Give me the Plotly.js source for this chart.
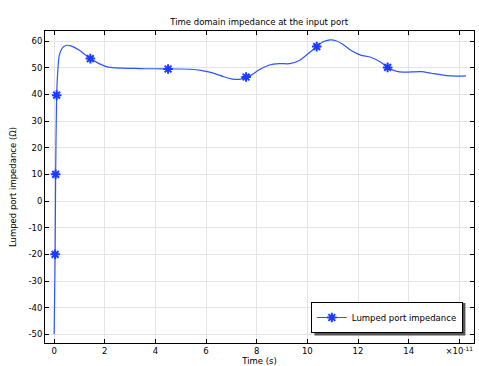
<!DOCTYPE html>
<html>
<head>
<meta charset="utf-8">
<script src="https://cdn.plot.ly/plotly-3.0.1.min.js"></script>
<style>html,body{margin:0;padding:0;background:#fff;}#chart{width:479px;height:366px;}</style>
</head>
<body>
<div id="chart"></div>
<script>
// Time in units of 1e-11 s
var timeVals = [0, 0.02, 0.04, 0.06, 0.1, 0.14, 0.2, 0.3, 0.4, 0.5, 0.65, 0.8, 1.0, 1.2, 1.43, 1.7, 2.0, 2.3, 2.7, 3.2, 3.6, 4.0, 4.5, 5.0, 5.4, 5.8, 6.1, 6.4, 6.7, 7.0, 7.2, 7.4, 7.58, 7.8, 8.1, 8.5, 8.9, 9.3, 9.7, 10.0, 10.37, 10.6, 10.9, 11.1, 11.4, 11.7, 12.1, 12.5, 12.9, 13.17, 13.5, 13.8, 14.1, 14.5, 14.9, 15.3, 15.7, 16.0, 16.26];
var impedanceVals = [-50, -35, -20, 10, 39.7, 48, 54.5, 57, 58, 58.4, 58.2, 57.6, 56.5, 55, 53.4, 51.9, 50.6, 50.0, 49.8, 49.7, 49.6, 49.6, 49.5, 49.5, 49.4, 49.0, 48.4, 47.6, 46.6, 45.8, 45.6, 45.8, 46.5, 47.3, 49.2, 51.0, 51.5, 51.5, 52.8, 55, 57.9, 59.6, 60.4, 60.2, 58.8, 56.6, 54.7, 53.9, 52, 50.1, 48.7, 48.3, 48.4, 48.5, 47.9, 47.3, 46.9, 46.8, 46.9];
var markerIdx = [2, 3, 4, 14, 22, 32, 40, 49];
var xTickVals = [0, 2, 4, 6, 8, 10, 12, 14, 16];
var xTickText = ['0', '2', '4', '6', '8', '10', '12', '14', '\u00d710<sup>-11</sup>'];
var yTickVals = [-50, -40, -30, -20, -10, 0, 10, 20, 30, 40, 50, 60];
var yTickText = ['-50', '-40', '-30', '-20', '-10', '0', '10', '20', '30', '40', '50', '60'];
var seriesName = 'Lumped port impedance';

var lineColor = 'rgb(45,85,255)';
var markColor = 'rgb(25,60,255)';
var markT = markerIdx.map(function(i){return timeVals[i];});
var markZ = markerIdx.map(function(i){return impedanceVals[i];});
var font = 'DejaVu Sans, sans-serif';

var traces = [
  {x: timeVals, y: impedanceVals, mode: 'lines', line: {color: lineColor, width: 1.2, shape: 'spline', smoothing: 0.6}, showlegend: false, hoverinfo: 'skip'},
  {x: markT, y: markZ, mode: 'markers', marker: {symbol: 'asterisk-open', size: 8, color: markColor, line: {color: markColor, width: 2}}, showlegend: false},
  {x: [null], y: [null], mode: 'lines+markers', name: seriesName, line: {color: lineColor, width: 1.2}, marker: {symbol: 'asterisk-open', size: 8, color: markColor, line: {color: markColor, width: 2}}}
];

var layout = {
  width: 479, height: 366,
  margin: {l: 45, r: 5, t: 31, b: 23},
  paper_bgcolor: '#fff', plot_bgcolor: '#fff',
  font: {family: font, size: 8.5, color: '#000'},
  title: {text: 'Time domain impedance at the input port', font: {family: font, size: 8.5, color: '#000'}, x: 0.541, xanchor: 'center', y: 0.94, yanchor: 'middle'},
  xaxis: {
    range: [-0.36, 16.58], tickvals: xTickVals, ticktext: xTickText,
    ticks: 'inside', ticklen: 4, tickcolor: '#000', showline: true, linecolor: '#000', linewidth: 1, mirror: 'ticks',
    showgrid: true, gridcolor: '#e4e4e4', gridwidth: 1, zeroline: false,
    title: {text: 'Time (s)', font: {family: font, size: 8.5}, standoff: 0},
    tickfont: {family: font, size: 8.5}
  },
  yaxis: {
    range: [-53.25, 63.75], tickvals: yTickVals, ticktext: yTickText,
    ticks: 'inside', ticklen: 4, tickcolor: '#000', showline: true, linecolor: '#000', linewidth: 1, mirror: 'ticks',
    showgrid: true, gridcolor: '#e4e4e4', gridwidth: 1, zeroline: false,
    title: {text: 'Lumped port impedance (\u03a9)', font: {family: font, size: 8.5}, standoff: 10},
    tickfont: {family: font, size: 8.5}
  },
  legend: {x: 0.974, xanchor: 'right', y: 0.032, yanchor: 'bottom', bgcolor: '#fff', bordercolor: '#000', borderwidth: 1, font: {family: font, size: 8.5}, itemwidth: 30},
  shapes: [
    {type: 'rect', xref: 'paper', yref: 'paper', x0: 0.628, x1: 0.980, y0: 0.024, y1: 0.128, fillcolor: '#555', line: {width: 0}, layer: 'above'}
  ],
  showlegend: true
};

Plotly.newPlot('chart', traces, layout, {displayModeBar: false, staticPlot: true});
</script>
</body>
</html>
